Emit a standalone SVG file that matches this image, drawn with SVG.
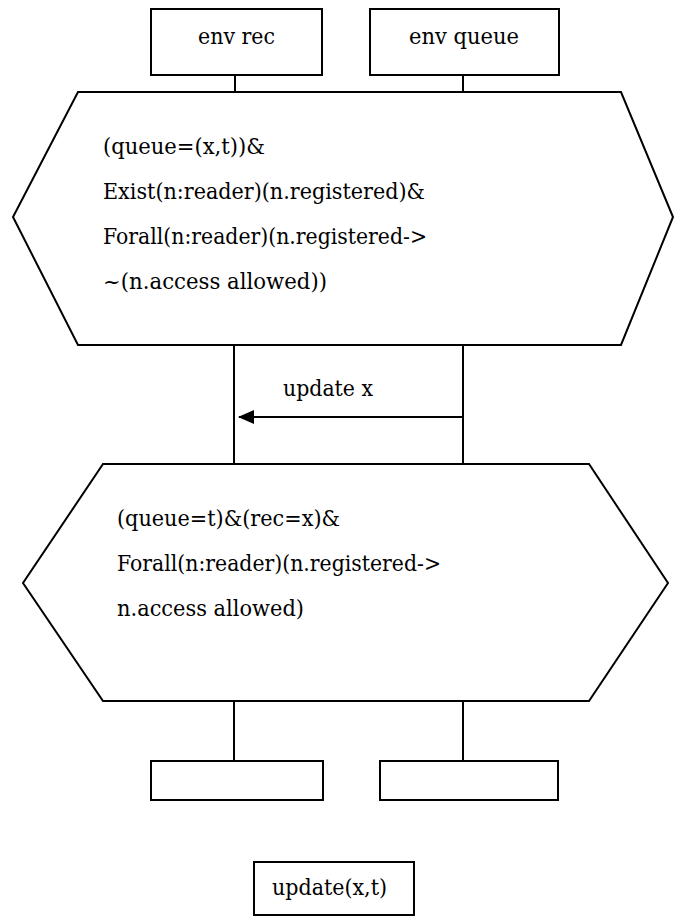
<svg xmlns="http://www.w3.org/2000/svg" width="674" height="920" viewBox="0 0 674 920">
<style>
.s{fill:#fff;stroke:#000;stroke-width:2}
.l{fill:none;stroke:#000;stroke-width:2}
.t{font-family:'DejaVu Serif',serif;font-size:23px;fill:#000}
</style>
<defs>
<marker id="ah" markerWidth="16" markerHeight="14" refX="15" refY="7" orient="auto" markerUnits="userSpaceOnUse">
<path d="M0,0 L16,7 L0,14 Z" fill="#000"/>
</marker>
</defs>
<rect width="674" height="920" fill="#fff"/>
<g id="connectors">
<line class="l" x1="235" y1="75" x2="235" y2="92"/>
<line class="l" x1="463" y1="75" x2="463" y2="92"/>
<line class="l" x1="234" y1="345" x2="234" y2="464"/>
<line class="l" x1="463" y1="345" x2="463" y2="464"/>
<line class="l" x1="463" y1="417" x2="239" y2="417" marker-end="url(#ah)"/>
<text class="t" x="283" y="396" textLength="90" lengthAdjust="spacingAndGlyphs">update x</text>
<line class="l" x1="234" y1="701" x2="234" y2="761"/>
<line class="l" x1="463" y1="701" x2="463" y2="761"/>
</g>
<g id="env-rec">
<rect class="s" x="151" y="9" width="171" height="66"/>
<text class="t" x="198" y="44" textLength="77" lengthAdjust="spacingAndGlyphs">env rec</text>
</g>
<g id="env-queue">
<rect class="s" x="370" y="9" width="189" height="66"/>
<text class="t" x="409" y="44" textLength="110" lengthAdjust="spacingAndGlyphs">env queue</text>
</g>
<g id="state1">
<polygon class="s" points="78,92 621,92 673,217 621,345 78,345 13,217"/>
<text class="t" x="103" y="154" textLength="162" lengthAdjust="spacingAndGlyphs">(queue=(x,t))&amp;</text>
<text class="t" x="103" y="199" textLength="322" lengthAdjust="spacingAndGlyphs">Exist(n:reader)(n.registered)&amp;</text>
<text class="t" x="103" y="244" textLength="324" lengthAdjust="spacingAndGlyphs">Forall(n:reader)(n.registered-&gt;</text>
<text class="t" x="103" y="289" textLength="224" lengthAdjust="spacingAndGlyphs">~(n.access allowed))</text>
</g>
<g id="state2">
<polygon class="s" points="103,464 589,464 668,583 589,701 103,701 23,583"/>
<text class="t" x="117" y="526" textLength="223" lengthAdjust="spacingAndGlyphs">(queue=t)&amp;(rec=x)&amp;</text>
<text class="t" x="117" y="571" textLength="324" lengthAdjust="spacingAndGlyphs">Forall(n:reader)(n.registered-&gt;</text>
<text class="t" x="117" y="616" textLength="187" lengthAdjust="spacingAndGlyphs">n.access allowed)</text>
</g>
<g id="out1">
<rect class="s" x="151" y="761" width="172" height="39"/>
</g>
<g id="out2">
<rect class="s" x="380" y="761" width="178" height="39"/>
</g>
<g id="update-box">
<rect class="s" x="254" y="862" width="160" height="53"/>
<text class="t" x="272" y="895" textLength="115" lengthAdjust="spacingAndGlyphs">update(x,t)</text>
</g>
</svg>
